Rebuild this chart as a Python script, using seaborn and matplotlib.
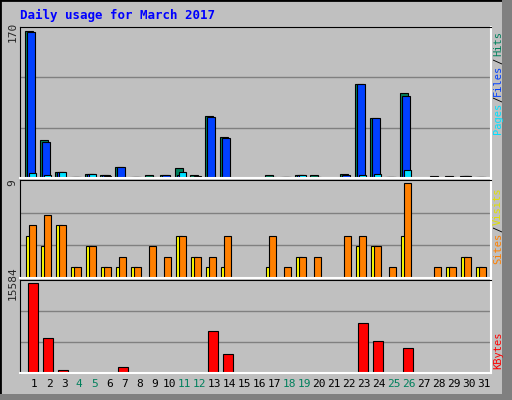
import numpy as np
import matplotlib
matplotlib.use("Agg")
import matplotlib.pyplot as plt
import seaborn as sns
from matplotlib.patches import Rectangle

days = list(range(1, 32))
weekends = [4, 5, 11, 12, 18, 19, 25, 26]

hits = [170, 44, 7, 1, 5, 3, 13, 1, 4, 3, 12, 4, 72, 48, 0, 0, 4, 1, 4, 3, 0, 5, 109, 70, 1, 99, 0, 2, 2, 2, 1]
files = [169, 42, 7, 1, 5, 3, 13, 1, 1, 3, 4, 1, 71, 46, 0, 0, 1, 1, 4, 1, 0, 4, 109, 69, 1, 95, 0, 0, 1, 2, 1]
pages = [6, 4, 7, 1, 5, 2, 1, 1, 1, 1, 7, 2, 1, 1, 0, 0, 1, 1, 4, 1, 0, 0, 4, 5, 1, 9, 0, 0, 1, 2, 1]
visits = [4, 3, 5, 1, 3, 1, 1, 1, 0, 0, 4, 2, 1, 1, 0, 0, 1, 0, 2, 0, 0, 0, 3, 3, 0, 4, 0, 0, 1, 2, 1]
sites = [5, 6, 5, 1, 3, 1, 2, 1, 3, 2, 4, 2, 2, 4, 0, 0, 4, 1, 2, 2, 0, 4, 4, 3, 1, 9, 0, 1, 1, 2, 1]
kbytes = [15584, 6066, 510, 50, 50, 50, 960, 50, 50, 50, 50, 50, 7254, 3344, 0, 0, 50, 0, 50, 50, 0, 50, 8614, 5554, 50, 4364, 0, 0, 50, 50, 50]

sns.set_style("white")
plt.rcParams["font.family"] = ["DejaVu Sans Mono"]
BG = "#C0C0C0"
W, H = 512, 400
fig = plt.figure(figsize=(5.12, 4.0), dpi=100, facecolor=BG)

# outer bevel
fig.patches.append(Rectangle((0, 0), 1, 1, transform=fig.transFigure, fill=False, ec="black", lw=2))
fig.patches.append(Rectangle((502 / W, 0), 10 / W, 1, transform=fig.transFigure, fc="#808080", ec="none"))
fig.patches.append(Rectangle((0, 0), 1, 6 / H, transform=fig.transFigure, fc="#808080", ec="none"))

def panel(top, bottom):
    return fig.add_axes([20 / W, 1 - bottom / H, 471 / W, (bottom - top) / H])

x = np.array(days, dtype=float)
u = 1 / 15.0  # one pixel in day units

def style(ax, ymax, label):
    ax.set_facecolor(BG)
    ax.set_xlim(0.05, 31.45)
    ax.set_ylim(0, ymax * 1.03)
    for f in (1 / 3, 2 / 3):
        ax.axhline(ymax * 1.03 * f, color="#808080", lw=1, zorder=0)
    ax.set_yticks([ymax * 1.0])
    ax.set_yticklabels([label], rotation=90, va="center", fontsize=8)
    ax.tick_params(axis="y", length=0, pad=2)
    ax.set_xticks([])
    for s in ("top", "left"):
        ax.spines[s].set_color("black")
    for s in ("bottom", "right"):
        ax.spines[s].set_color("white")
        ax.spines[s].set_linewidth(1.5)

# Pages / Files / Hits
ax1 = panel(27, 178)
ax1.bar(x - 9 * u, hits, width=8 * u, align="edge", color="#00805c", ec="black", lw=0.8)
ax1.bar(x - 7 * u, files, width=8 * u, align="edge", color="#0040ff", ec="black", lw=0.8)
ax1.bar(x - 5 * u, pages, width=7 * u, align="edge", color="#00e0ff", ec="black", lw=0.8)
style(ax1, 170, "170")

# Sites / Visits
ax2 = panel(180, 278)
ax2.bar(x - 8 * u, visits, width=6 * u, align="edge", color="#ffff00", ec="black", lw=0.8)
ax2.bar(x - 5 * u, sites, width=7 * u, align="edge", color="#ff8000", ec="black", lw=0.8)
style(ax2, 9, "9")

# KBytes
ax3 = panel(280, 373)
ax3.bar(x - 6 * u, kbytes, width=10 * u, align="edge", color="#ff0000", ec="black", lw=0.8)
style(ax3, 15584, "15584")
ax3.set_xticks(x)
ax3.set_xticklabels([str(d) for d in days], fontsize=8)
ax3.tick_params(axis="x", length=0, pad=4)
for t, d in zip(ax3.get_xticklabels(), days):
    t.set_color("#00805c" if d in weekends else "black")

fig.text(20 / W, 1 - 15 / H, "Daily usage for March 2017", color="#0000ff",
         fontsize=9, fontweight="bold", va="center", ha="left")

def side(items):
    for txt, y, c in items:
        fig.text(498 / W, 1 - y / H, txt, rotation=90, color=c, fontsize=7.5,
                 ha="center", va="center")

side([("Pages", 118, "#00e0ff"), ("/", 99, "black"), ("Files", 80, "#0040ff"),
      ("/", 61, "black"), ("Hits", 44, "#00805c")])
side([("Sites", 248, "#ff8000"), ("/", 229, "black"), ("Visits", 206, "#e0e000")])
side([("KBytes", 350, "#ff0000")])

fig.savefig("out.png", dpi=100, facecolor=BG)
